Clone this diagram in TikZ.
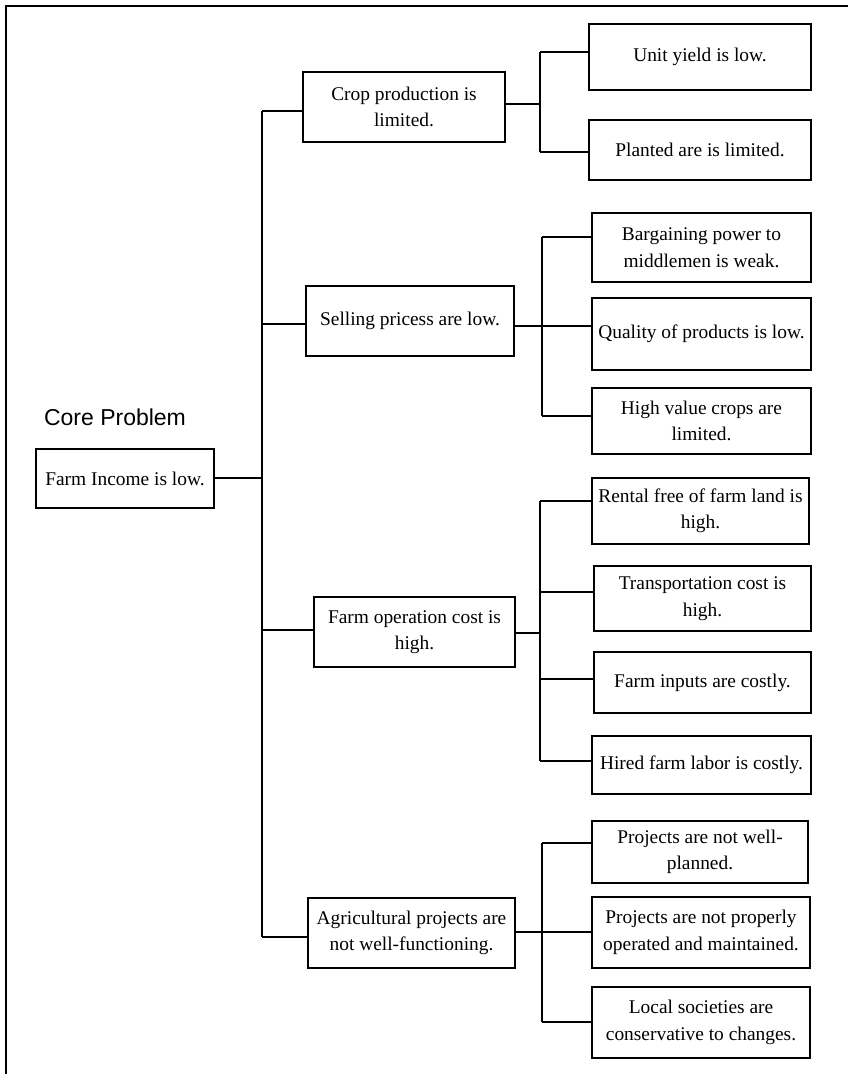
\documentclass[tikz,border=0pt]{standalone}
\usepackage{fontspec}
\setmainfont{Liberation Serif}
\newfontfamily\labelsans{Liberation Sans}
\begin{document}
\begin{tikzpicture}[x=1pt,y=-1pt,
  line width=1.8pt,
  box/.style={draw=black, line width=1.8pt, rectangle, inner sep=0pt,
    align=center, font=\fontsize{19.4}{26.5}\selectfont},
  link/.style={draw=black, line width=1.8pt}]
\useasboundingbox (0,0) rectangle (848,1074);
% outer frame
\draw[line width=1.8pt] (6,1080) -- (6,6) -- (856,6);

% core problem
\node[font=\labelsans\fontsize{23}{26}\selectfont] (title) at (115,417) {Core Problem};
\node[box, minimum width=178pt, minimum height=59pt] (core) at (125,478.5) {Farm Income is low.};

% causes, first level
\node[box, minimum width=202pt, minimum height=70pt] (crop) at (404,107) {Crop production is\\limited.};
\node[box, minimum width=208pt, minimum height=70pt] (sell) at (410,321) {Selling pricess are low.};
\node[box, minimum width=201pt, minimum height=70pt] (farmop) at (414.5,632) {Farm operation cost is\\high.};
\node[box, minimum width=207pt, minimum height=70pt] (agri) at (411.5,933) {Agricultural projects are\\not well-functioning.};

% causes, second level
\node[box, minimum width=222pt, minimum height=66pt] (unit) at (700,57) {Unit yield is low.};
\node[box, minimum width=222pt, minimum height=60pt] (planted) at (700,150) {Planted are is limited.};

\node[box, minimum width=219pt, minimum height=69pt] (bargain) at (701.5,247.5) {Bargaining power to\\middlemen is weak.};
\node[box, minimum width=219pt, minimum height=72pt] (quality) at (701.5,334) {Quality of products is low.};
\node[box, minimum width=219pt, minimum height=66pt] (highval) at (701.5,421) {High value crops are\\limited.};

\node[box, minimum width=217pt, minimum height=66pt] (rental) at (700.5,511) {Rental free of farm land is\\high.};
\node[box, minimum width=217pt, minimum height=65pt] (transport) at (702.5,598.5) {Transportation cost is\\high.};
\node[box, minimum width=217pt, minimum height=61pt] (inputs) at (702.5,682.5) {Farm inputs are costly.};
\node[box, minimum width=219pt, minimum height=58pt] (hired) at (701.5,765) {Hired farm labor is costly.};

\node[box, minimum width=216pt, minimum height=62pt] (wellplan) at (700,852) {Projects are not well-\\planned.};
\node[box, minimum width=218pt, minimum height=71pt] (properly) at (701,932.5) {Projects are not properly\\operated and maintained.};
\node[box, minimum width=218pt, minimum height=71pt] (local) at (701,1022.5) {Local societies are\\conservative to changes.};

% trunk from the core problem
\coordinate (tTop) at (262,111);
\coordinate (tSell) at (262,324);
\coordinate (tCore) at (262,478);
\coordinate (tOp) at (262,630);
\coordinate (tBot) at (262,937);
\draw[link] (tTop) -- (tBot);
\draw[link] (core.east |- tCore) -- ++(5,0) -- (tCore);
\draw[link] (tTop) -- (crop.west |- tTop);
\draw[link] (tSell) -- (sell.west |- tSell);
\draw[link] (tOp) -- (farmop.west |- tOp);
\draw[link] (tBot) -- (agri.west |- tBot);

% branch: crop production
\coordinate (aTop) at (540,52);
\coordinate (aMid) at (540,104);
\coordinate (aBot) at (540,152);
\draw[link] (aTop) -- (aBot);
\draw[link] (crop.east |- aMid) -- (aMid);
\draw[link] (aTop) -- (unit.west |- aTop);
\draw[link] (aBot) -- (planted.west |- aBot);

% branch: selling prices
\coordinate (bTop) at (542,237);
\coordinate (bMid) at (542,326);
\coordinate (bBot) at (542,416);
\draw[link] (bTop) -- (bBot);
\draw[link] (sell.east |- bMid) -- (quality.west |- bMid);
\draw[link] (bTop) -- (bargain.west |- bTop);
\draw[link] (bBot) -- (highval.west |- bBot);

% branch: farm operation cost
\coordinate (cTop) at (540,501);
\coordinate (cMid) at (540,633);
\coordinate (cTwo) at (540,592);
\coordinate (cThree) at (540,679);
\coordinate (cBot) at (540,761);
\draw[link] (cTop) -- (cBot);
\draw[link] (farmop.east |- cMid) -- (cMid);
\draw[link] (cTop) -- (rental.west |- cTop);
\draw[link] (cTwo) -- (transport.west |- cTwo);
\draw[link] (cThree) -- (inputs.west |- cThree);
\draw[link] (cBot) -- (hired.west |- cBot);

% branch: agricultural projects
\coordinate (dTop) at (542,843);
\coordinate (dMid) at (542,932);
\coordinate (dBot) at (542,1022);
\draw[link] (dTop) -- (dBot);
\draw[link] (agri.east |- dMid) -- (properly.west |- dMid);
\draw[link] (dTop) -- (wellplan.west |- dTop);
\draw[link] (dBot) -- (local.west |- dBot);
\end{tikzpicture}
\end{document}
